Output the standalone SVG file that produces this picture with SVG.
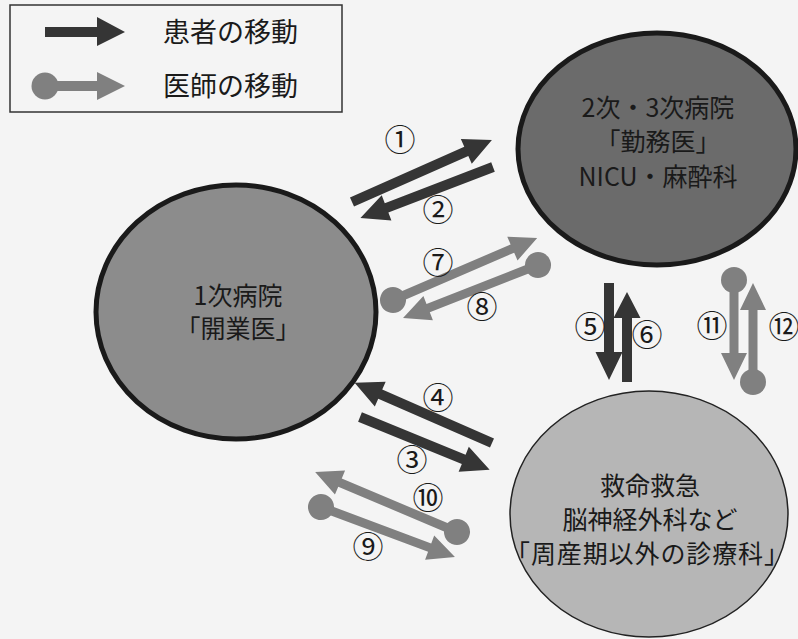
<svg xmlns="http://www.w3.org/2000/svg" width="798" height="639" viewBox="0 0 798 639">
<style>
.t{font-family:"Noto Sans CJK JP","Noto Sans",sans-serif;fill:#1a1a1a;text-anchor:middle}
.lg{font-size:27px;text-anchor:start}
.nd{font-size:25px}
.num{font-family:"Noto Sans CJK JP","DejaVu Sans",sans-serif;font-size:31px;fill:#1a1a1a;text-anchor:middle}
.pt{fill:#353535}
.dr{fill:#808080}
</style>
<rect width="798" height="639" fill="#f4f4f4"/>
<g id="legend">
<rect x="10" y="5" width="332" height="107" fill="none" stroke="#333" stroke-width="1.5"/>
<polygon class="pt" points="45,27 97,27 97,17 125,32 97,46 97,37 45,37"/>
<circle class="dr" cx="45" cy="86" r="13.5"/>
<polygon class="dr" points="45,81 97,81 97,72 125,86 97,100 97,91 45,91"/>
<text class="t lg" x="163" y="42">患者の移動</text>
<text class="t lg" x="163" y="96">医師の移動</text>
</g>
<g id="n-secondary">
<ellipse cx="657" cy="149" rx="139" ry="116" fill="#6b6b6b" stroke="#1a1a1a" stroke-width="5"/>
<text class="t nd" x="658" y="117">2次・3次病院</text>
<text class="t nd" x="658" y="151">「勤務医」</text>
<text class="t nd" x="658" y="186">NICU・麻酔科</text>
</g>
<g id="n-primary">
<ellipse cx="236" cy="312" rx="140" ry="127" fill="#8c8c8c" stroke="#1a1a1a" stroke-width="5"/>
<text class="t nd" x="238" y="305">1次病院</text>
<text class="t nd" x="238" y="338">「開業医」</text>
</g>
<g id="n-emergency">
<ellipse cx="649" cy="514" rx="139" ry="123" fill="#b6b6b6" stroke="#222" stroke-width="1.5"/>
<text class="t nd" x="650" y="495">救命救急</text>
<text class="t nd" x="650" y="529">脳神経外科など</text>
<text class="t nd" x="647" y="563" textLength="284">「周産期以外の診療科」</text>
</g>
<g id="connectors">
<g transform="translate(352,202) rotate(-23.88)"><polygon class="pt" points="0,-5 125,-5 125,-13.5 153,0 125,13.5 125,5 0,5"/></g>
<g transform="translate(493,167) rotate(159)"><polygon class="pt" points="0,-5 114,-5 114,-13.5 142,0 114,13.5 114,5 0,5"/></g>
<g transform="translate(360,417) rotate(22.18)"><polygon class="pt" points="0,-5 112,-5 112,-13.5 140,0 112,13.5 112,5 0,5"/></g>
<g transform="translate(492,443) rotate(-156.35)"><polygon class="pt" points="0,-5 122,-5 122,-13.5 150,0 122,13.5 122,5 0,5"/></g>
<g transform="translate(609,283) rotate(90)"><polygon class="pt" points="0,-5 69,-5 69,-13.5 97,0 69,13.5 69,5 0,5"/></g>
<g transform="translate(627,382) rotate(-90)"><polygon class="pt" points="0,-5 64,-5 64,-13.5 90,0 64,13.5 64,5 0,5"/></g>
<g transform="translate(393,300) rotate(-23.3)"><circle class="dr" r="13"/><polygon class="dr" points="0,-4.5 130,-4.5 130,-13 157,0 130,13 130,4.5 0,4.5"/></g>
<g transform="translate(538,265) rotate(158.57)"><circle class="dr" r="13"/><polygon class="dr" points="0,-4.5 118,-4.5 118,-13 145,0 118,13 118,4.5 0,4.5"/></g>
<g transform="translate(321,507) rotate(20.5)"><circle class="dr" r="13"/><polygon class="dr" points="0,-4.5 116,-4.5 116,-13 143,0 116,13 116,4.5 0,4.5"/></g>
<g transform="translate(457,532) rotate(-157.1)"><circle class="dr" r="13"/><polygon class="dr" points="0,-4.5 127,-4.5 127,-13 154,0 127,13 127,4.5 0,4.5"/></g>
<g transform="translate(734,280) rotate(90)"><circle class="dr" r="13"/><polygon class="dr" points="0,-4.5 73,-4.5 73,-13 100,0 73,13 73,4.5 0,4.5"/></g>
<g transform="translate(753,382) rotate(-90)"><circle class="dr" r="13"/><polygon class="dr" points="0,-4.5 72,-4.5 72,-13 99,0 72,13 72,4.5 0,4.5"/></g>
</g>
<g id="labels">
<text class="num" x="400" y="151">①</text>
<text class="num" x="438" y="221">②</text>
<text class="num" x="412" y="471">③</text>
<text class="num" x="438" y="409">④</text>
<text class="num" x="590" y="338">⑤</text>
<text class="num" x="647" y="346">⑥</text>
<text class="num" x="438" y="274">⑦</text>
<text class="num" x="482" y="318">⑧</text>
<text class="num" x="368" y="558">⑨</text>
<text class="num" x="428" y="509">⑩</text>
<text class="num" x="712" y="337">⑪</text>
<text class="num" x="784" y="338">⑫</text>
</g>
</svg>
